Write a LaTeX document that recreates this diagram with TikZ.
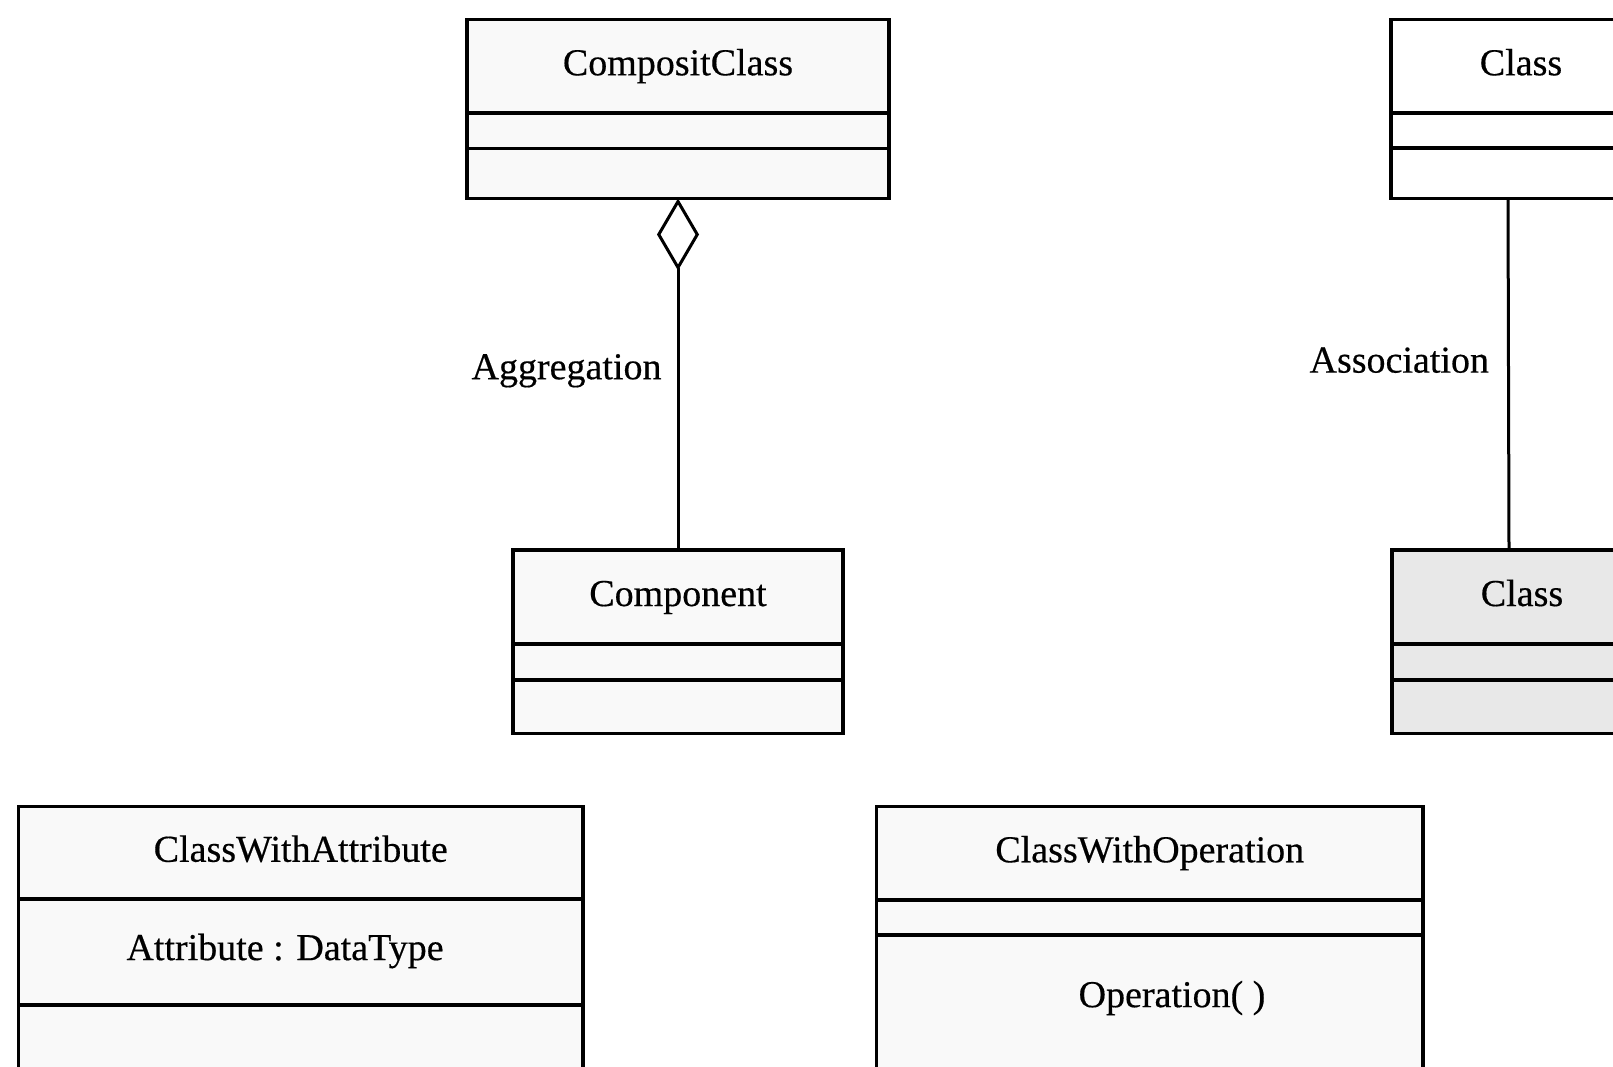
\documentclass[tikz,border=0pt]{standalone}
\usepackage{fontspec}
\setmainfont{Liberation Serif}[FakeBold=0.4]
\usetikzlibrary{arrows.meta}
\definecolor{paper}{gray}{0.975}
\definecolor{stipple}{gray}{0.91}
\begin{document}
\begin{tikzpicture}[x=1pt,y=-1pt,
  txt/.style={font=\fontsize{38}{44}\selectfont},
  part/.style={draw=black, line width=3.1pt, rectangle, inner sep=0pt,
               outer sep=0pt, anchor=north west, fill=paper, txt,
               text height=27pt, text depth=9pt},
  conn/.style={draw=black, line width=3pt},
  lbl/.style={txt, inner sep=0pt}
]
\useasboundingbox (0,0) rectangle (1613,1067);
\fill[white] (0,0) rectangle (1613,1067);
\clip (0,0) rectangle (1613,1067);

% CompositClass
\node[part, minimum width=422, minimum height=93.5] (cc-name) at (467,19.5) {CompositClass};
\node[part, minimum width=422, minimum height=35.5] (cc-attr) at (467,113) {};
\node[part, minimum width=422, minimum height=50] (cc-ops) at (467,148.5) {};

% Component
\node[part, minimum width=330, minimum height=94] (comp-name) at (513,550) {Component};
\node[part, minimum width=330, minimum height=36] (comp-attr) at (513,644) {};
\node[part, minimum width=330, minimum height=53.5] (comp-ops) at (513,680) {};

% Class (upper)
\node[part, fill=white, minimum width=260, minimum height=93.5] (clsA-name) at (1391,19.5) {Class};
\node[part, fill=white, minimum width=260, minimum height=35] (clsA-attr) at (1391,113) {};
\node[part, fill=white, minimum width=260, minimum height=50.5] (clsA-ops) at (1391,148) {};

% Class (lower)
\node[part, fill=stipple, minimum width=260, minimum height=94] (clsB-name) at (1392,550) {Class};
\node[part, fill=stipple, minimum width=260, minimum height=36] (clsB-attr) at (1392,644) {};
\node[part, fill=stipple, minimum width=260, minimum height=53.5] (clsB-ops) at (1392,680) {};

% ClassWithAttribute
\node[part, minimum width=564.5, minimum height=92.5] (cwa-name) at (18.5,806.5) {ClassWithAttribute};
\node[part, minimum width=564.5, minimum height=106] (cwa-attr) at (18.5,899) {};
\node[part, minimum width=564.5, minimum height=90] (cwa-ops) at (18.5,1005) {};
\node[lbl] (cwa-at) at (285,951) {Attribute : DataType};

% ClassWithOperation
\node[part, minimum width=546.5, minimum height=93.5] (cwo-name) at (876.5,806.5) {ClassWithOperation};
\node[part, minimum width=546.5, minimum height=35] (cwo-attr) at (876.5,900) {};
\node[part, minimum width=546.5, minimum height=160] (cwo-ops) at (876.5,935) {};
\node[lbl] (cwo-op) at (1172,998) {Operation( )};

% Aggregation
\draw[conn, {Diamond[open, fill=white, length=72pt, width=42pt]}-]
  (cc-ops.south) -- node[lbl, left=15pt, pos=0.49] {Aggregation} (comp-name.north);

% Association
\draw[conn]
  ([xshift=-13pt]clsA-ops.south) -- node[lbl, left=18pt, pos=0.46] {Association}
  ([xshift=-13pt]clsB-name.north);
\end{tikzpicture}
\end{document}
